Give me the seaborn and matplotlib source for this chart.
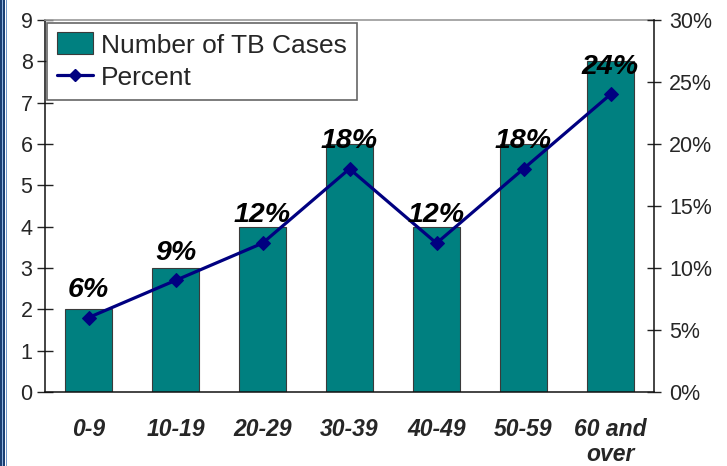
import matplotlib
matplotlib.use("Agg")
import matplotlib.pyplot as plt
from matplotlib.patches import Rectangle, Patch
from matplotlib.lines import Line2D
from matplotlib.ticker import FixedLocator, FuncFormatter
import numpy as np
import seaborn as sns

# Data
age_groups = ["0-9", "10-19", "20-29", "30-39", "40-49", "50-59", "60 and\nover"]
tb_cases = [2, 3, 4, 6, 4, 6, 8]
percent = [6, 9, 12, 18, 12, 18, 24]
percent_labels = ["6%", "9%", "12%", "18%", "12%", "18%", "24%"]

sns.set_theme(style="white")
plt.rcParams["font.family"] = ["Liberation Sans", "DejaVu Sans"]

bar_color = "#008080"
line_color = "#000080"

fig = plt.figure(figsize=(7.27, 4.66), dpi=100)
ax = fig.add_axes([45 / 727, 1 - 392 / 466, (654 - 45) / 727, (392 - 20) / 466])

sns.barplot(x=age_groups, y=tb_cases, color=bar_color, width=0.53,
            edgecolor="#3a3a3a", linewidth=0.8, saturation=1, ax=ax)
ax.set_xlim(-0.5, 6.5)
ax.set_ylim(0, 9)
ax.set_yticks(range(0, 10))
ax.set_xlabel("")
ax.set_ylabel("")

# Category boundary ticks on x axis, labels centered under bars
ax.xaxis.set_major_locator(FixedLocator(np.arange(7)))
ax.set_xticklabels(age_groups, fontsize=16.5, fontweight="bold", fontstyle="italic",
                   linespacing=1.08)
ax.tick_params(axis="x", which="major", length=0, pad=19)
ax.xaxis.set_minor_locator(FixedLocator(np.arange(-0.5, 7, 1)))
ax.tick_params(axis="x", which="minor", direction="inout", length=12, width=1, color="#333333")
for lbl in ax.get_xticklabels():
    lbl.set_verticalalignment("top")

ax.tick_params(axis="y", direction="inout", length=12, width=1, color="#222222",
               labelsize=15.5, pad=3, left=True)

for side in ["left", "bottom"]:
    ax.spines[side].set_color("#111111")
    ax.spines[side].set_linewidth(1.1)
ax.spines["top"].set_color("#999999")
ax.spines["top"].set_linewidth(1.2)
ax.spines["right"].set_visible(False)

# Percent line on secondary axis
ax2 = ax.twinx()
sns.lineplot(x=np.arange(7), y=percent, color=line_color, linewidth=2.3,
             marker="D", markersize=7, markeredgecolor=line_color, ax=ax2)
ax2.set_ylim(0, 30)
ax2.set_yticks(range(0, 31, 5))
ax2.yaxis.set_major_formatter(FuncFormatter(lambda v, p: f"{int(v)}%"))
ax2.tick_params(axis="y", direction="inout", length=10, width=1, color="#222222",
                labelsize=15.5, pad=6, right=True)
ax2.spines["right"].set_color("#111111")
ax2.spines["right"].set_linewidth(1.1)
for side in ["left", "top", "bottom"]:
    ax2.spines[side].set_visible(False)
ax2.set_ylabel("")

for i, (v, t) in enumerate(zip(percent, percent_labels)):
    ax2.annotate(t, (i, v), xytext=(0, 15), textcoords="offset points",
                 ha="center", va="baseline", fontsize=20.5, fontweight="bold",
                 fontstyle="italic", color="black")

handles = [Patch(facecolor=bar_color, edgecolor="#3a3a3a", linewidth=0.8),
           Line2D([0], [0], color=line_color, linewidth=2.3, marker="D", markersize=6)]
leg = ax2.legend(handles, ["Number of TB Cases", "Percent"], loc="upper left",
                 bbox_to_anchor=(2 / 609, 1 - 3 / 372), borderaxespad=0,
                 fontsize=19, frameon=True, fancybox=False, framealpha=1,
                 edgecolor="#666666", handlelength=1.4, handleheight=0.9,
                 handletextpad=0.3, labelspacing=0.28, borderpad=0.36)
leg.get_frame().set_linewidth(1.2)

# Striped border on the left edge
stripes = [(0.0, 1.6, "#1b3f73"), (1.6, 2.8, "#8fb3de"), (2.8, 4.8, "#1b3f73"),
           (4.8, 5.8, "#ffffff"), (5.8, 7.0, "#6f97c9")]
for x0, x1, c in stripes:
    fig.patches.append(Rectangle((x0 / 727, 0), (x1 - x0) / 727, 1,
                                 transform=fig.transFigure, facecolor=c,
                                 edgecolor="none", zorder=10))

fig.savefig("out.png", dpi=100)
